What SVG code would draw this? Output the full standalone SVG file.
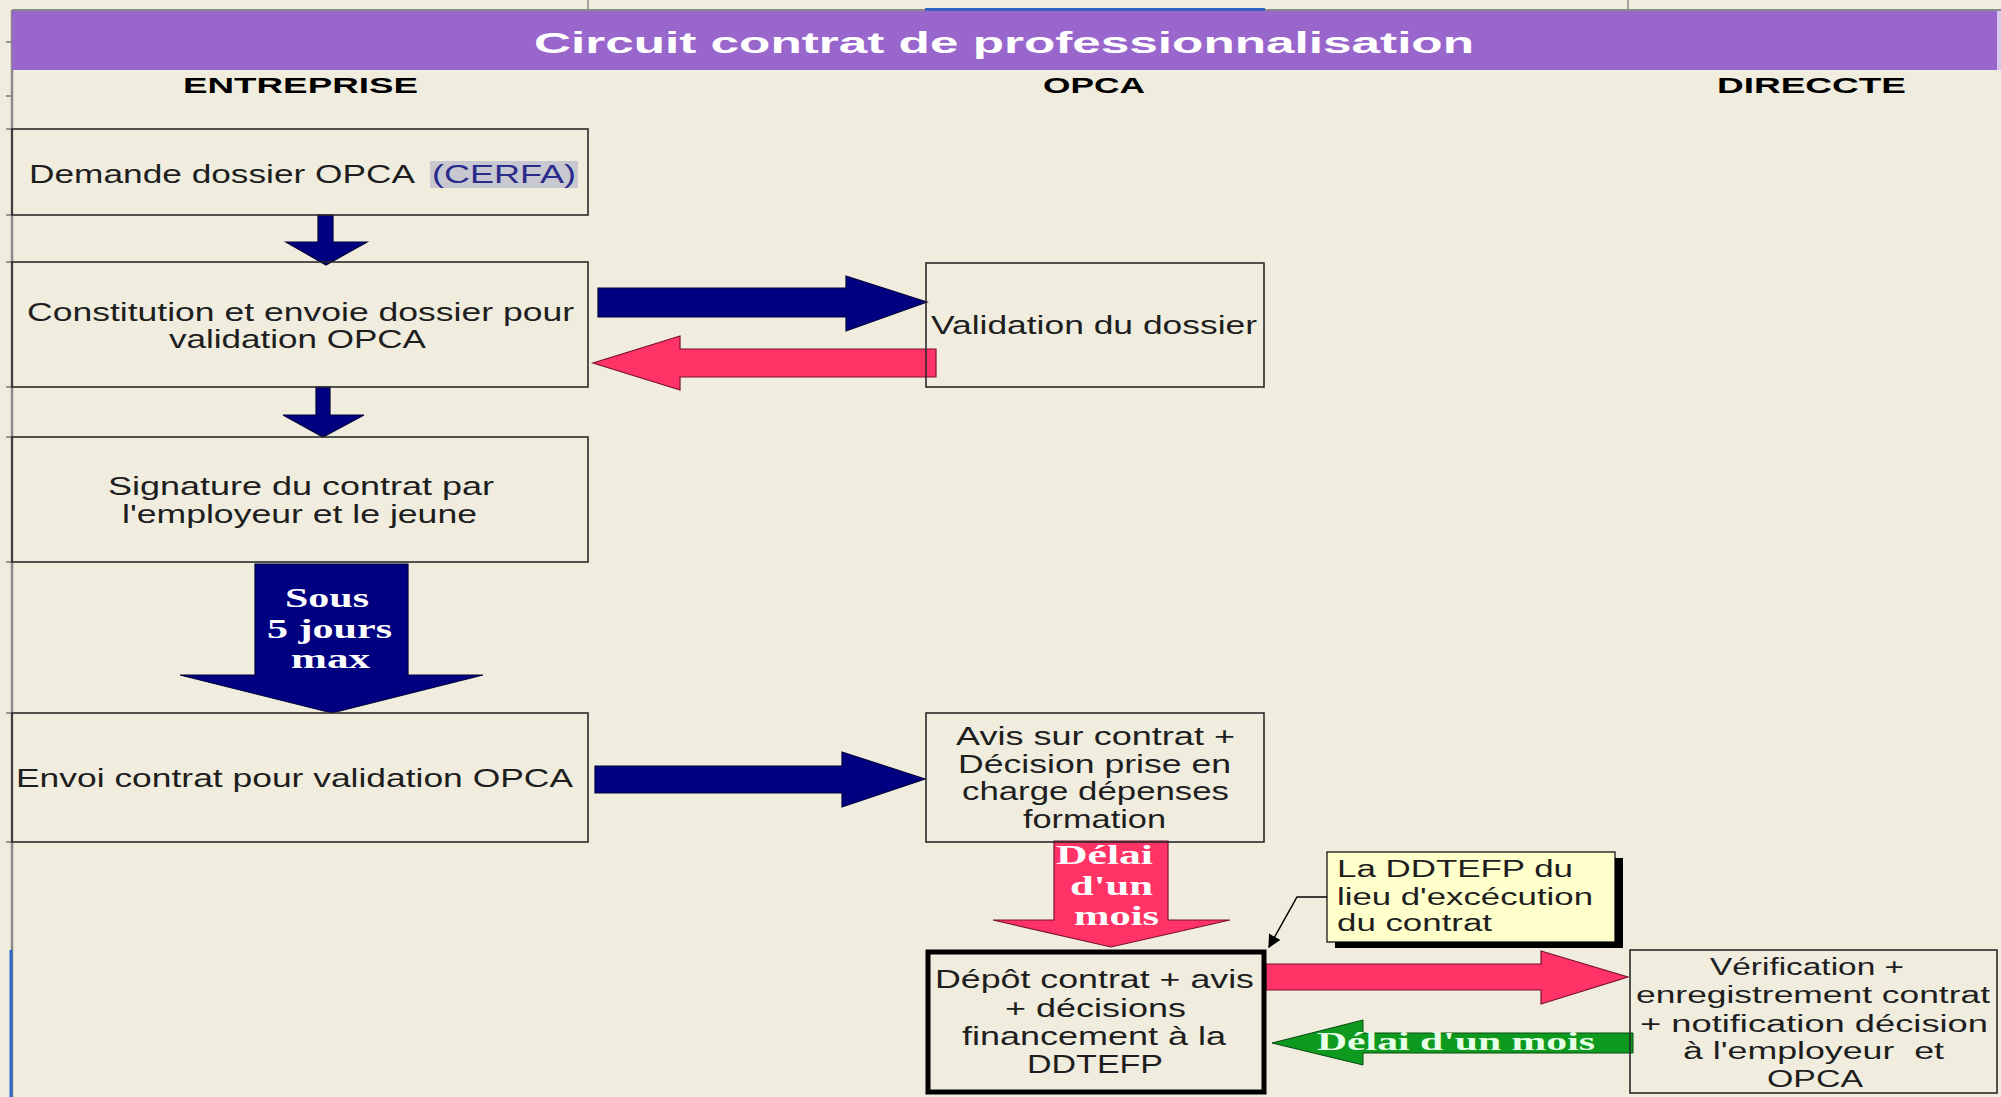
<svg xmlns="http://www.w3.org/2000/svg" width="2001" height="1097" viewBox="0 0 2001 1097">
<defs>
<style>
.bg{fill:#F0EDDE}
.box{fill:none;stroke:#2a2a2a;stroke-width:1.6}
.t{font-family:"Liberation Sans",Arial,sans-serif;font-size:25px;fill:#1e1e1e}
.ts{font-family:"Liberation Sans",Arial,sans-serif;font-size:23px;fill:#1e1e1e}
.hd{font-family:"Liberation Sans",Arial,sans-serif;font-size:22px;font-weight:bold;fill:#000}
.ttl{font-family:"Liberation Sans",Arial,sans-serif;font-size:30px;font-weight:bold;fill:#fff}
.al{font-family:"Liberation Serif","Times New Roman",serif;font-size:27px;font-weight:bold;fill:#fff}
.navy{fill:#000080;stroke:#00003a;stroke-width:1.2}
.pink{fill:#FF3366;stroke:#7a1030;stroke-width:1.2}
.green{fill:#0E9A1E;stroke:#064a10;stroke-width:1}
</style>
<marker id="ah" viewBox="0 0 10 10" refX="9" refY="5" markerWidth="15" markerHeight="13" orient="auto" markerUnits="userSpaceOnUse">
<path d="M0,0 L10,5 L0,10 z" fill="#000"/>
</marker>
</defs>
<rect class="bg" x="0" y="0" width="2001" height="1097"/>
<g id="sheet">
<line x1="12" y1="10" x2="2001" y2="10" stroke="#8a8a8a" stroke-width="2"/>
<line x1="588" y1="0" x2="588" y2="10" stroke="#8a8a8a" stroke-width="1.5"/>
<line x1="1628" y1="0" x2="1628" y2="10" stroke="#8a8a8a" stroke-width="1.5"/>
<line x1="925" y1="9.5" x2="1265" y2="9.5" stroke="#3463C4" stroke-width="3"/>
<line x1="12" y1="10" x2="12" y2="1097" stroke="#8a8a8a" stroke-width="2.5"/>
<line x1="11" y1="950" x2="11" y2="1097" stroke="#3366CC" stroke-width="3"/>
<g stroke="#777" stroke-width="1.5">
<line x1="6" y1="42" x2="12" y2="42"/><line x1="6" y1="96" x2="12" y2="96"/>
<line x1="6" y1="129" x2="12" y2="129"/><line x1="6" y1="215" x2="12" y2="215"/>
<line x1="6" y1="262" x2="12" y2="262"/><line x1="6" y1="387" x2="12" y2="387"/>
<line x1="6" y1="437" x2="12" y2="437"/><line x1="6" y1="562" x2="12" y2="562"/>
<line x1="6" y1="713" x2="12" y2="713"/><line x1="6" y1="842" x2="12" y2="842"/>
</g>
</g>
<g id="title">
<rect x="12" y="11" width="1985" height="59" fill="#9966CC"/>
<rect x="1997" y="11" width="4" height="59" fill="#D8C8EC"/>
<text class="ttl" x="534" y="53" textLength="940" lengthAdjust="spacingAndGlyphs">Circuit contrat de professionnalisation</text>
</g>
<g id="headers">
<text class="hd" x="183" y="93" textLength="235" lengthAdjust="spacingAndGlyphs">ENTREPRISE</text>
<text class="hd" x="1043" y="93" textLength="102" lengthAdjust="spacingAndGlyphs">OPCA</text>
<text class="hd" x="1717" y="93" textLength="189" lengthAdjust="spacingAndGlyphs">DIRECCTE</text>
</g>
<g id="connectors">
<path class="navy" d="M318,215 L333,215 L333,242 L367,242 L326,265 L286,242 L318,242 Z"/>
<path class="navy" d="M316,387 L330,387 L330,415 L364,415 L323,437 L283,415 L316,415 Z"/>
<path class="navy" d="M255,564 L408,564 L408,675 L483,675 L332,713 L180,675 L255,675 Z"/>
<path class="navy" d="M598,288 L846,288 L846,276 L927,302 L846,331 L846,317 L598,317 Z"/>
<path class="pink" d="M936,349 L680,349 L680,336 L593,363 L680,390 L680,377 L936,377 Z"/>
<path class="navy" d="M595,766 L842,766 L842,752 L925,779 L842,807 L842,793 L595,793 Z"/>
<path class="pink" d="M1054,841 L1168,841 L1168,920 L1230,920 L1111,947 L993,920 L1054,920 Z"/>
<path class="pink" d="M1266,964 L1541,964 L1541,951 L1628,977 L1541,1004 L1541,990 L1266,990 Z"/>
<path class="green" d="M1633,1033 L1363,1033 L1363,1020 L1272,1043 L1363,1065 L1363,1053 L1633,1053 Z"/>
<polyline points="1327,897 1297,897 1269,947" fill="none" stroke="#000" stroke-width="1.5" marker-end="url(#ah)"/>
<text class="al" x="285" y="607" textLength="84" lengthAdjust="spacingAndGlyphs">Sous</text>
<text class="al" x="267" y="638" textLength="125" lengthAdjust="spacingAndGlyphs">5 jours</text>
<text class="al" x="291" y="668" textLength="79" lengthAdjust="spacingAndGlyphs">max</text>
<text class="al" x="1056" y="864" textLength="97" lengthAdjust="spacingAndGlyphs">Délai</text>
<text class="al" x="1070" y="895" textLength="83" lengthAdjust="spacingAndGlyphs">d'un</text>
<text class="al" x="1074" y="925" textLength="85" lengthAdjust="spacingAndGlyphs">mois</text>
<text class="al" x="1317" y="1050" textLength="278" lengthAdjust="spacingAndGlyphs" style="font-size:26px;fill:#E6FFE6">Délai d'un mois</text>
</g>
<g id="n1">
<rect class="box" x="12" y="129" width="576" height="86"/>
<rect x="430" y="161" width="148" height="27" fill="#C8C9D0"/>
<text class="t" x="29" y="183" textLength="386" lengthAdjust="spacingAndGlyphs">Demande dossier OPCA</text>
<text class="t" x="432" y="183" textLength="144" lengthAdjust="spacingAndGlyphs" style="fill:#2B2B8C">(CERFA)</text>
</g>
<g id="n2">
<rect class="box" x="12" y="262" width="576" height="125"/>
<text class="t" x="27" y="321" textLength="547" lengthAdjust="spacingAndGlyphs">Constitution et envoie dossier pour</text>
<text class="t" x="169" y="348" textLength="257" lengthAdjust="spacingAndGlyphs">validation OPCA</text>
</g>
<g id="n3">
<rect class="box" x="12" y="437" width="576" height="125"/>
<text class="t" x="108" y="495" textLength="386" lengthAdjust="spacingAndGlyphs">Signature du contrat par</text>
<text class="t" x="122" y="523" textLength="355" lengthAdjust="spacingAndGlyphs">l'employeur et le jeune</text>
</g>
<g id="n4">
<rect class="box" x="12" y="713" width="576" height="129"/>
<text class="t" x="16" y="787" textLength="557" lengthAdjust="spacingAndGlyphs">Envoi contrat pour validation OPCA</text>
</g>
<g id="n5">
<rect class="box" x="926" y="263" width="338" height="124"/>
<text class="t" x="931" y="334" textLength="326" lengthAdjust="spacingAndGlyphs">Validation du dossier</text>
</g>
<g id="n6">
<rect class="box" x="926" y="713" width="338" height="129"/>
<text class="t" x="956" y="745" textLength="279" lengthAdjust="spacingAndGlyphs">Avis sur contrat +</text>
<text class="t" x="958" y="773" textLength="273" lengthAdjust="spacingAndGlyphs">Décision prise en</text>
<text class="t" x="962" y="800" textLength="267" lengthAdjust="spacingAndGlyphs">charge dépenses</text>
<text class="t" x="1023" y="828" textLength="143" lengthAdjust="spacingAndGlyphs">formation</text>
</g>
<g id="n7">
<rect x="928" y="952" width="336" height="140" fill="none" stroke="#000" stroke-width="5"/>
<text class="t" x="935" y="988" textLength="319" lengthAdjust="spacingAndGlyphs">Dépôt contrat + avis</text>
<text class="t" x="1005" y="1017" textLength="181" lengthAdjust="spacingAndGlyphs">+ décisions</text>
<text class="t" x="962" y="1045" textLength="264" lengthAdjust="spacingAndGlyphs">financement à la</text>
<text class="t" x="1027" y="1073" textLength="136" lengthAdjust="spacingAndGlyphs">DDTEFP</text>
</g>
<g id="n8">
<rect class="box" x="1630" y="950" width="367" height="143"/>
<text class="ts" x="1710" y="975" textLength="194" lengthAdjust="spacingAndGlyphs">Vérification +</text>
<text class="ts" x="1636" y="1003" textLength="354" lengthAdjust="spacingAndGlyphs">enregistrement contrat</text>
<text class="ts" x="1640" y="1032" textLength="348" lengthAdjust="spacingAndGlyphs">+ notification décision</text>
<text class="ts" x="1683" y="1059" textLength="261" lengthAdjust="spacingAndGlyphs" xml:space="preserve">à l'employeur  et</text>
<text class="ts" x="1767" y="1087" textLength="96" lengthAdjust="spacingAndGlyphs">OPCA</text>
</g>
<g id="n9">
<rect x="1335" y="858" width="288" height="90" fill="#000"/>
<rect x="1327" y="852" width="288" height="90" fill="#FFFFCC" stroke="#000" stroke-width="1.2"/>
<text class="ts" x="1337" y="877" textLength="236" lengthAdjust="spacingAndGlyphs">La DDTEFP du</text>
<text class="ts" x="1337" y="905" textLength="256" lengthAdjust="spacingAndGlyphs">lieu d'excécution</text>
<text class="ts" x="1337" y="931" textLength="155" lengthAdjust="spacingAndGlyphs">du contrat</text>
</g>
</svg>
